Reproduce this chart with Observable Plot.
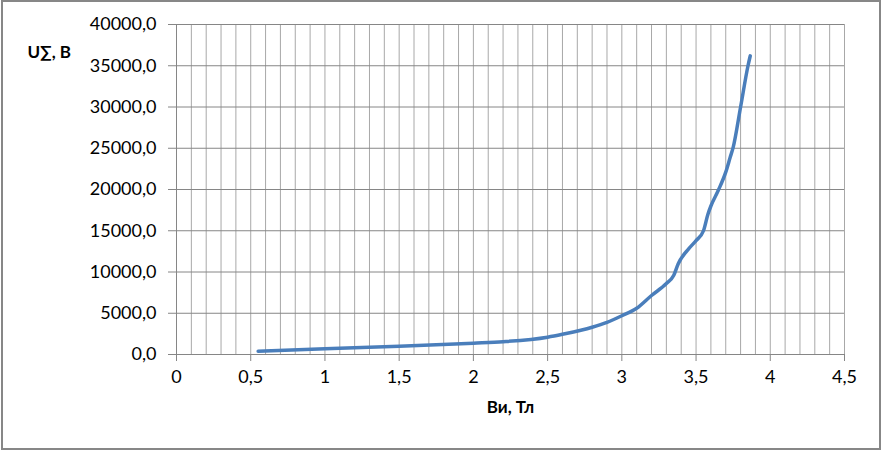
<!DOCTYPE html>
<html>
<head>
<meta charset="utf-8">
<script src="https://cdn.jsdelivr.net/npm/d3@7"></script>
<script src="https://cdn.jsdelivr.net/npm/@observablehq/plot@0.6"></script>
<style>
  html, body { margin: 0; padding: 0; background: #fff; }
  #wrap { position: relative; width: 882px; height: 451px; overflow: hidden; }
  #frame { position: absolute; left: 1px; top: 0px; width: 880px; height: 450px; box-sizing: border-box; border: 2px solid #878787; pointer-events: none; }
  #chart svg { display: block; }
</style>
</head>
<body>
<div id="wrap"><div id="chart"></div><div id="frame"></div></div>
<script>
// Data
const B = [0.55, 1.0, 1.5, 2.0, 2.2, 2.5, 2.6, 2.8, 2.9, 3.0, 3.1, 3.2, 3.3, 3.35, 3.38, 3.45, 3.5, 3.55, 3.58, 3.6, 3.65, 3.7, 3.73, 3.75, 3.8, 3.85, 3.865];
const U = [400, 690, 1000, 1370, 1550, 2100, 2450, 3300, 3900, 4700, 5600, 7150, 8600, 9600, 11000, 12800, 13800, 15000, 17000, 18000, 19900, 22100, 23900, 25100, 30000, 35000, 36200];

const xTicks = [0, 0.5, 1, 1.5, 2, 2.5, 3, 3.5, 4, 4.5];
const xMinorTicks = d3.range(0, 46).map(i => i / 10);
const yTicks = [0, 5000, 10000, 15000, 20000, 25000, 30000, 35000, 40000];
const yTitle = "U∑, В";
const xTitle = "Ви, Тл";

const data = B.map((b, i) => ({B: b, U: U[i]}));
const fmtX = d => String(d).replace(".", ",");
const fmtY = d => d.toFixed(1).replace(".", ",");
const font = "Lato, 'Open Sans', 'Noto Sans', sans-serif";

const chart = Plot.plot({
  width: 882,
  height: 451,
  marginLeft: 176,
  marginRight: 38,
  marginTop: 24,
  marginBottom: 97,
  style: {fontFamily: font, fontSize: "18px", color: "#000", background: "#fff"},
  x: {domain: [0, 4.5]},
  y: {domain: [0, 40000]},
  marks: [
    Plot.ruleX(xMinorTicks, {stroke: "#a8a8a8", strokeWidth: 1}),
    Plot.ruleY(yTicks, {stroke: "#868686", strokeWidth: 1}),
    Plot.ruleX([0], {stroke: "#868686", strokeWidth: 1}),
    Plot.axisX(xTicks, {tickSize: 7, tickFormat: fmtX, stroke: "#868686", tickPadding: 9, fontSize: 18, fill: "#000", label: null}),
    Plot.axisY(yTicks, {tickSize: 8, tickFormat: fmtY, stroke: "#868686", tickPadding: 12, fontSize: 18, fill: "#000", label: null}),
    Plot.line(data, {x: "B", y: "U", stroke: "#4a7ebb", strokeWidth: 3.5, curve: "monotone-x", strokeLinecap: "round"}),
    Plot.text([yTitle], {frameAnchor: "top-left", dx: -149, dy: 21, text: d => d, fontWeight: "bold", fontSize: 17, textAnchor: "start", fill: "#000"}),
    Plot.text([xTitle], {frameAnchor: "bottom", dy: 58, text: d => d, fontWeight: "bold", fontSize: 17, fill: "#000"})
  ]
});
document.getElementById("chart").appendChild(chart);
</script>
</body>
</html>
